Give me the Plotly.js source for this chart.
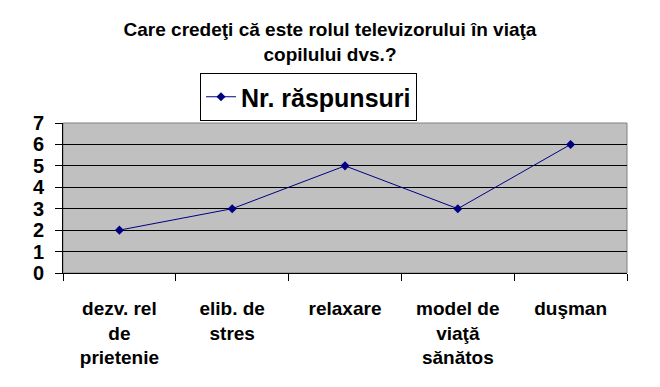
<!DOCTYPE html>
<html>
<head>
<meta charset="utf-8">
<script src="https://cdn.plot.ly/plotly-3.0.1.min.js"></script>
<style>html,body{margin:0;padding:0;background:#fff;}#chart{width:660px;height:387px;}</style>
</head>
<body>
<div id="chart"></div>
<script>
const categories = ["dezv. rel<br>de<br>prietenie", "elib. de<br>stres", "relaxare", "model de<br>viaţă<br>sănătos", "duşman"];
const responses = [2, 3, 5, 3, 6];
const seriesName = "Nr. răspunsuri";
const titleText = "Care credeţi că este rolul televizorului în viaţa<br>copilului dvs.?";
const yTicks = [0, 1, 2, 3, 4, 5, 6, 7];

const FONT = "Liberation Sans, Arial, sans-serif";

const trace = {
  x: categories,
  y: responses,
  name: seriesName,
  type: "scatter",
  mode: "lines+markers",
  line: {color: "#000080", width: 1},
  marker: {color: "#000080", symbol: "diamond", size: 7}
};

const layout = {
  width: 660,
  height: 387,
  margin: {l: 63, r: 33, t: 123, b: 114, pad: 0},
  paper_bgcolor: "#ffffff",
  plot_bgcolor: "#c0c0c0",
  showlegend: true,
  title: {
    text: titleText,
    font: {family: FONT, size: 19, color: "#000", weight: 700},
    xref: "container", x: 0.5, xanchor: "center",
    yref: "container", y: 1 - 36 / 387, yanchor: "top"
  },
  legend: {
    x: (200 - 63) / 564, xanchor: "left",
    y: (273 - 73) / 150, yanchor: "top",
    bgcolor: "#ffffff",
    bordercolor: "#000000", borderwidth: 1,
    font: {family: FONT, size: 25, color: "#000", weight: 700}
  },
  xaxis: {
    type: "category",
    range: [-0.5, 4.5],
    tickson: "boundaries",
    ticks: "outside", ticklen: 7, tickcolor: "#000", tickwidth: 1,
    showline: true, linecolor: "#000", linewidth: 1,
    showgrid: false, zeroline: false,
    ticklabelstandoff: 18,
    tickfont: {family: FONT, size: 19, color: "#000", weight: 700},
    fixedrange: true
  },
  yaxis: {
    range: [0, 7],
    tickmode: "array", tickvals: yTicks, ticktext: yTicks.map(String),
    ticks: "outside", ticklen: 7, tickcolor: "#000", tickwidth: 1,
    showline: true, linecolor: "#000", linewidth: 1,
    showgrid: true, gridcolor: "#000", gridwidth: 1,
    zeroline: false,
    ticklabelstandoff: 7,
    tickfont: {family: FONT, size: 20, color: "#000", weight: 700},
    fixedrange: true
  },
  shapes: [{
    type: "rect", xref: "paper", yref: "paper",
    x0: 0, x1: 1, y0: 0, y1: 1,
    line: {color: "#808080", width: 1},
    fillcolor: "rgba(0,0,0,0)",
    layer: "below"
  }]
};

Plotly.newPlot("chart", [trace], layout, {displayModeBar: false, staticPlot: true});
</script>
</body>
</html>
